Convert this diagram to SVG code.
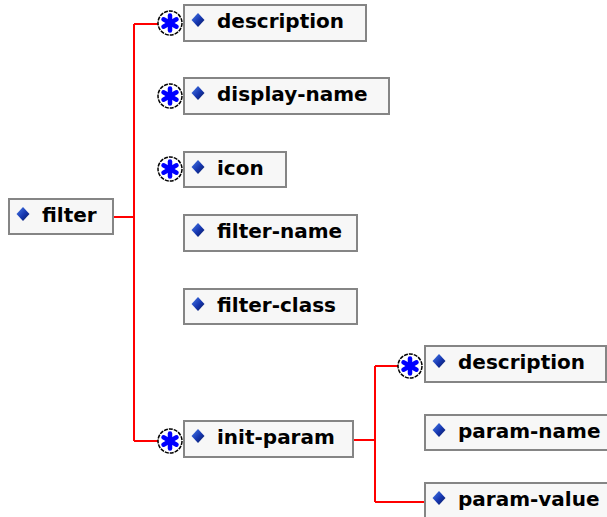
<svg xmlns="http://www.w3.org/2000/svg" width="607" height="517" viewBox="0 0 607 517">
<defs>
<style>
.box{fill:#f7f7f7;stroke:#858585;stroke-width:2}
.lbl{font-family:"DejaVu Sans",Verdana,sans-serif;font-weight:bold;font-size:20px;fill:#000}
.wire{fill:none;stroke:#ff0000;stroke-width:2}
.occ{fill:#fff;stroke:#000;stroke-width:1.5;stroke-dasharray:4 1}
.ast{stroke:#0000ff;stroke-width:4.5;stroke-linecap:round}
</style>
<linearGradient id="dg" x1="0" y1="0" x2="1" y2="1">
<stop offset="0" stop-color="#4a7ee8"/>
<stop offset="0.55" stop-color="#1535b0"/>
<stop offset="1" stop-color="#0a1a50"/>
</linearGradient>
<polygon id="dia" points="0,-7 6.5,0 0,7 -6.5,0" fill="url(#dg)"/>
<g id="many">
<circle r="12" class="occ"/>
<line x1="0" y1="-7.5" x2="0" y2="7.5" class="ast"/>
<line x1="-6.5" y1="-3.75" x2="6.5" y2="3.75" class="ast"/>
<line x1="-6.5" y1="3.75" x2="6.5" y2="-3.75" class="ast"/>
</g>
</defs>
<rect width="607" height="517" fill="#fff"/>
<g id="connectors">
<path class="wire" d="M113,217 H134 M134,24 V441 M134,24 H158 M134,441 H158"/>
<path class="wire" d="M353,440 H375 M375,366 V502 M375,366 H398 M375,502 H425"/>
</g>
<g id="filter">
<rect class="box" x="9" y="199" width="104" height="35"/>
<use href="#dia" x="23" y="214"/>
<text class="lbl" x="42" y="222">filter</text>
</g>
<g id="description">
<use href="#many" x="170" y="23"/>
<rect class="box" x="184" y="5" width="182" height="36"/>
<use href="#dia" x="198" y="20"/>
<text class="lbl" x="217" y="28">description</text>
</g>
<g id="display-name">
<use href="#many" x="170" y="96"/>
<rect class="box" x="184" y="78" width="205" height="36"/>
<use href="#dia" x="198" y="93"/>
<text class="lbl" x="217" y="101">display-name</text>
</g>
<g id="icon">
<use href="#many" x="170" y="169"/>
<rect class="box" x="184" y="152" width="102" height="35"/>
<use href="#dia" x="198" y="167"/>
<text class="lbl" x="217" y="175">icon</text>
</g>
<g id="filter-name">
<rect class="box" x="184" y="215" width="173" height="36"/>
<use href="#dia" x="198" y="230"/>
<text class="lbl" x="217" y="238">filter-name</text>
</g>
<g id="filter-class">
<rect class="box" x="184" y="289" width="173" height="35"/>
<use href="#dia" x="198" y="304"/>
<text class="lbl" x="217" y="312">filter-class</text>
</g>
<g id="init-param">
<use href="#many" x="170" y="441"/>
<rect class="box" x="184" y="421" width="169" height="36"/>
<use href="#dia" x="198" y="436"/>
<text class="lbl" x="217" y="444">init-param</text>
</g>
<g id="param-description">
<use href="#many" x="410" y="366"/>
<rect class="box" x="425" y="346" width="181" height="36"/>
<use href="#dia" x="439" y="361"/>
<text class="lbl" x="458" y="369">description</text>
</g>
<g id="param-name">
<rect class="box" x="425" y="415" width="190" height="35"/>
<use href="#dia" x="439" y="430"/>
<text class="lbl" x="458" y="438">param-name</text>
</g>
<g id="param-value">
<rect class="box" x="425" y="483" width="190" height="40"/>
<use href="#dia" x="439" y="498"/>
<text class="lbl" x="458" y="506">param-value</text>
</g>
</svg>
